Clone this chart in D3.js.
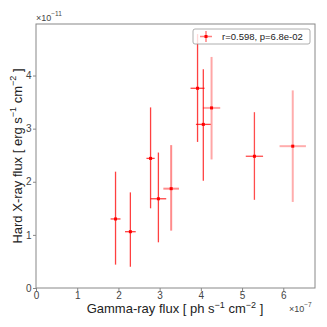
<!DOCTYPE html>
<html>
<head>
<meta charset="utf-8">
<script src="https://cdn.jsdelivr.net/npm/d3@7"></script>
<style>
  body { margin: 0; background: #fff; }
  svg text { font-family: "Liberation Sans", Arial, sans-serif; }
</style>
</head>
<body>
<svg id="chart" width="327" height="327"></svg>
<script>
// gamma-ray flux (x 1e-7) and hard X-ray flux (x 1e-11)
const gammaFlux = [1.93, 2.29, 2.78, 2.97, 3.28, 3.92, 4.06, 4.26, 5.30, 6.23];
const gammaErr  = [0.12, 0.13, 0.10, 0.19, 0.19, 0.17, 0.18, 0.21, 0.21, 0.32];
const xrayFlux  = [1.30, 1.06, 2.44, 1.68, 1.87, 3.76, 3.08, 3.39, 2.48, 2.67];
const xrayLo    = [0.44, 0.40, 1.50, 0.86, 1.08, 2.75, 2.02, 2.42, 1.66, 1.62];
const xrayHi    = [2.19, 1.80, 3.40, 2.55, 2.69, 4.78, 4.12, 4.35, 3.31, 3.72];
const pointAlpha = [0.75, 0.75, 0.75, 0.75, 0.45, 0.75, 0.75, 0.35, 0.7, 0.32];
const xTicks = [0, 1, 2, 3, 4, 5, 6];
const yTicks = [0, 1, 2, 3, 4];
const legendLabel = "r=0.598, p=6.8e-02";

const svg = d3.select("#chart");
const margin = {left: 36, right: 12, top: 24, bottom: 39};
const W = 327, H = 327;

const x = d3.scaleLinear().domain([0, 6.77]).range([margin.left, W - margin.right]);
const y = d3.scaleLinear().domain([0, 4.97]).range([H - margin.bottom, margin.top]);

const pts = gammaFlux.map((g, i) => ({
    x: g, xe: gammaErr[i], y: xrayFlux[i], lo: xrayLo[i], hi: xrayHi[i], a: pointAlpha[i]
}));

// error bars
const g = svg.append("g");
pts.forEach(d => {
    const w = d.a < 0.6 ? 2 : 1.3;
    g.append("line")
        .attr("x1", x(d.x)).attr("x2", x(d.x))
        .attr("y1", y(d.lo)).attr("y2", y(d.hi))
        .attr("stroke", "red").attr("stroke-opacity", d.a).attr("stroke-width", w);
    g.append("line")
        .attr("x1", x(d.x - d.xe)).attr("x2", x(d.x + d.xe))
        .attr("y1", y(d.y)).attr("y2", y(d.y))
        .attr("stroke", "red").attr("stroke-opacity", d.a).attr("stroke-width", w);
    g.append("rect")
        .attr("x", x(d.x) - 1.5).attr("y", y(d.y) - 1.5)
        .attr("width", 3).attr("height", 3)
        .attr("fill", "red");
});

// frame
svg.append("rect")
    .attr("x", margin.left).attr("y", margin.top)
    .attr("width", W - margin.left - margin.right)
    .attr("height", H - margin.top - margin.bottom)
    .attr("fill", "none").attr("stroke", "#888").attr("stroke-width", 1);

// axes
const xAxis = svg.append("g")
    .attr("transform", `translate(0,${H - margin.bottom})`)
    .call(d3.axisBottom(x).tickValues(xTicks).tickFormat(d3.format("d")).tickSize(3).tickPadding(1));
const yAxis = svg.append("g")
    .attr("transform", `translate(${margin.left},0)`)
    .call(d3.axisLeft(y).tickValues(yTicks).tickFormat(d3.format("d")).tickSize(3).tickPadding(1.5));
[xAxis, yAxis].forEach(ax => {
    ax.select(".domain").remove();
    ax.selectAll(".tick line").attr("stroke", "#888");
    ax.selectAll(".tick text").attr("fill", "#444").style("font-size", "10px")
        .style("font-family", "'Liberation Sans', Arial, sans-serif");
});

// offset texts
function offsetText(tx, ty, exp) {
    const t = svg.append("text").attr("x", tx).attr("y", ty)
        .attr("fill", "#444").style("font-size", "9px");
    t.append("tspan").text("\u00d710");
    t.append("tspan").attr("dy", -5).style("font-size", "6.5px").text(exp);
}
offsetText(36, 21, "\u221211");
offsetText(289, 312, "\u22127");

// axis labels
function axisLabel(sel, main, unit) {
    sel.append("tspan").text(main + " [ " + unit + " s");
    sel.append("tspan").attr("dy", -5.5).style("font-size", "9px").text("\u22121");
    sel.append("tspan").attr("dy", 5.5).text(" cm");
    sel.append("tspan").attr("dy", -5.5).style("font-size", "9px").text("\u22122");
    sel.append("tspan").attr("dy", 5.5).text(" ]");
}
const xl = svg.append("text")
    .attr("x", 175).attr("y", 313)
    .attr("text-anchor", "middle")
    .attr("fill", "#222").style("font-size", "13px");
axisLabel(xl, "Gamma-ray flux", "ph");

const yl = svg.append("text")
    .attr("transform", `translate(21.5,${(margin.top + H - margin.bottom) / 2}) rotate(-90)`)
    .attr("text-anchor", "middle")
    .attr("fill", "#222").style("font-size", "13px");
axisLabel(yl, "Hard X-ray flux", "erg");

// legend
const lg = svg.append("g");
lg.append("rect")
    .attr("x", 193).attr("y", 29).attr("width", 117).attr("height", 15)
    .attr("rx", 2)
    .attr("fill", "white").attr("fill-opacity", 0.8)
    .attr("stroke", "#999").attr("stroke-width", 0.8);
lg.append("line").attr("x1", 200).attr("x2", 212).attr("y1", 36.5).attr("y2", 36.5)
    .attr("stroke", "red").attr("stroke-opacity", 0.5).attr("stroke-width", 1.5);
lg.append("line").attr("x1", 206).attr("x2", 206).attr("y1", 31).attr("y2", 42)
    .attr("stroke", "red").attr("stroke-opacity", 0.5).attr("stroke-width", 1.5);
lg.append("rect").attr("x", 204.5).attr("y", 35).attr("width", 3).attr("height", 3).attr("fill", "red");
lg.append("text").attr("x", 222).attr("y", 40)
    .attr("fill", "#222").style("font-size", "9.5px").text(legendLabel);
</script>
</body>
</html>
